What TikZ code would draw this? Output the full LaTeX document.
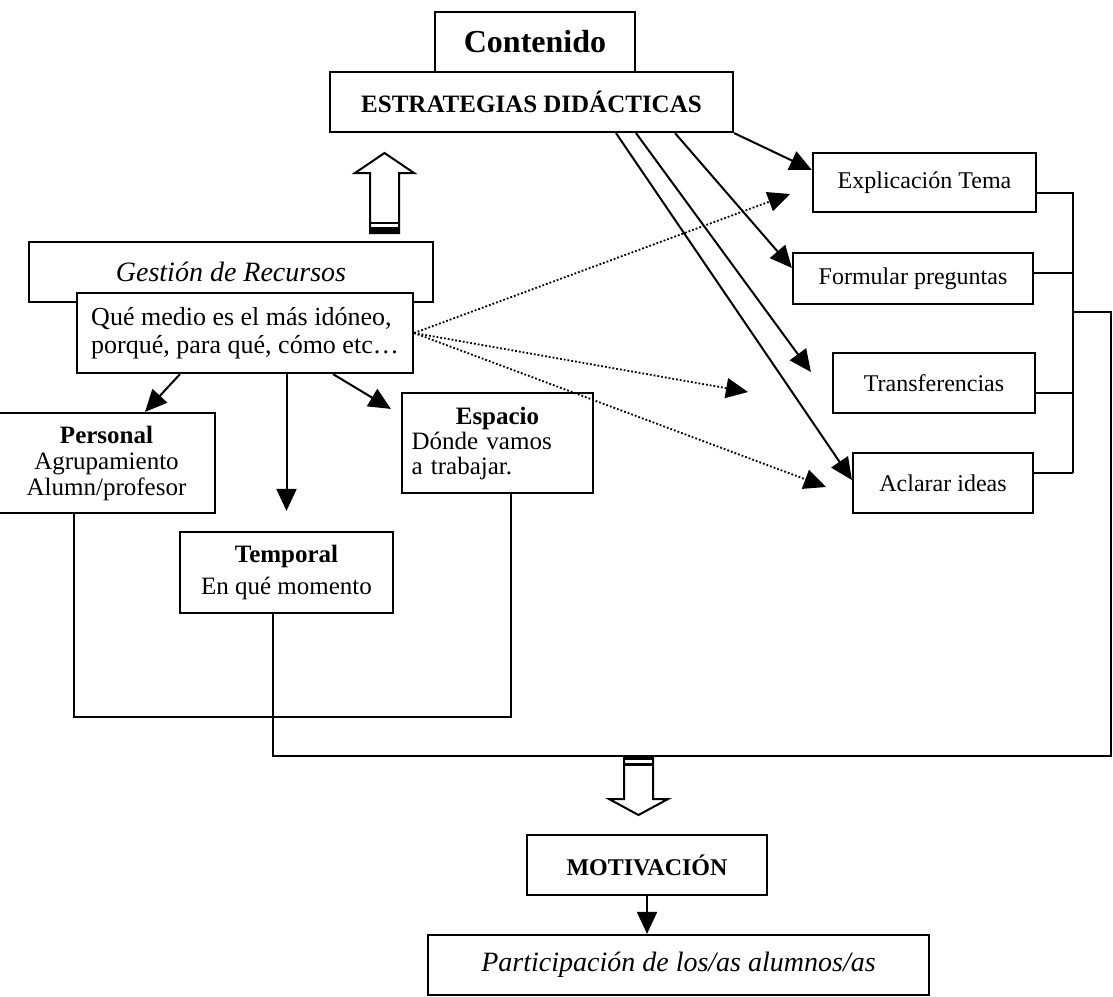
\documentclass[tikz,border=0pt]{standalone}
\usepackage{fontspec}
\setmainfont{Liberation Serif}
\usetikzlibrary{arrows.meta}
\tikzset{
	caja/.style={draw, line width=1.1pt, fill=white, inner sep=2pt, align=center, font=\fontsize{12}{12.5}\selectfont},
	flecha/.style={line width=1pt, -{Triangle[length=11pt,width=10pt]}},
	punteada/.style={densely dotted, line width=0.9pt, -{Triangle[length=11pt,width=10pt]}},
	hueca/.style={draw, line width=1pt, fill=white},
	linea/.style={line width=1pt}
}

\begin{document}
\begin{tikzpicture}[x=0.5pt,y=-0.5pt]
			\useasboundingbox (0,0) rectangle (1113,996);

			\node[caja, minimum width=100pt, minimum height=30pt, font=\fontsize{16}{18}\selectfont\bfseries] (cont) at (535,42) {Contenido};
			\node[caja, minimum width=201.5pt, minimum height=30pt, font=\fontsize{12.5}{14}\selectfont\bfseries] (estr) at (531.5,102) {ESTRATEGIAS DIDÁCTICAS};
			\node[caja, minimum width=202pt, minimum height=30pt, font=\fontsize{14}{16}\selectfont\itshape] (gest) at (231,272) {Gestión de Recursos};
			\node[caja, minimum width=168pt, minimum height=40pt, align=left, font=\fontsize{13}{14}\selectfont] (qm) at (245,333) {Qué medio es el más idóneo,\\ porqué, para qué, cómo etc…};
			\node[caja, minimum width=108.5pt, minimum height=50pt, font=\fontsize{12.5}{13}\selectfont] (pers) at (106.5,463) {\textbf{Personal}\\ Agrupamiento\\ Alumn/profesor};
			\node[caja, minimum width=106.5pt, minimum height=40.5pt, font=\fontsize{12.5}{16}\selectfont] (temp) at (286.5,572.5) {\textbf{Temporal}\\ En qué momento};
			\node[caja, align=left, text width=86pt, inner xsep=4.75pt, minimum height=50pt, font=\fontsize{12.5}{12.5}\selectfont] (esp) at (497.5,443) {\makebox[86pt]{\textbf{Espacio}}\\ Dónde vamos\\ a trabajar.};

			\node[caja, minimum width=111.5pt, minimum height=29.5pt] (expl) at (924.5,182.5) {Explicación Tema};
			\node[caja, minimum width=120pt, minimum height=25.5pt] (form) at (913,278.5) {Formular preguntas};
			\node[caja, minimum width=101pt, minimum height=30pt] (trans) at (934,383) {Transferencias};
			\node[caja, minimum width=90pt, minimum height=30pt] (acl) at (943,483) {Aclarar ideas};

			\node[caja, minimum width=120pt, minimum height=30pt, font=\fontsize{12}{14}\selectfont\bfseries] (mot) at (647,865) {MOTIVACIÓN};
			\node[caja, minimum width=250.5pt, minimum height=30pt, font=\fontsize{14}{16}\selectfont\itshape] (part) at (678.5,965) {Participación de los/as alumnos/as};

			\draw[flecha] (estr.south east) -- ([yshift=6.25pt]expl.west);
			\draw[flecha] ([xshift=71.75pt]estr.south) -- ([yshift=5.25pt]form.west);
			\draw[flecha] ([xshift=52.25pt]estr.south) -- ([xshift=-10.5pt,yshift=5.5pt]trans.west);
			\draw[flecha] ([xshift=42.25pt]estr.south) -- ([yshift=1.5pt]acl.west);

			\coordinate (p1) at (790,194);
			\coordinate (p2) at (748,392);
			\coordinate (p3) at (826,487);
			\draw[punteada] (qm.east) -- (p1);
			\draw[punteada] (qm.east) -- (p2);
			\draw[punteada] (qm.east) -- (p3);

			\draw[flecha] ([xshift=-32.5pt]qm.south) -- ([xshift=19.25pt]pers.north);
			\draw[flecha] (temp.north |- qm.south) -- ([yshift=10pt]temp.north);
			\draw[flecha] ([xshift=44pt]qm.south) -- ([xshift=-5pt,yshift=-8.5pt]esp.north west);

			\draw[hueca] (370,233) -- (370,173) -- (355,173) -- (384.5,153) -- (414,173) -- (399,173) -- (399,233) -- cycle;
			\fill (370,221.5) rectangle (399,223.5);
			\fill (370,227) rectangle (399,233);

			\coordinate (pi) at (74,717);
			\coordinate (pd) at (511,717);
			\draw[linea] (pers.south -| pi) -- (pi) -- (pd) -- (esp.south -| pd);

			\coordinate (ti) at (273,756);
			\coordinate (td) at (1111,756);
			\coordinate (ts) at (1111,312);
			\coordinate (ba) at (1073,473);
			\draw[linea] (temp.south -| ti) -- (ti) -- (td) -- (ts) -- (ts -| ba);
			\draw[linea] ([yshift=-5pt]expl.east) -| (ba);
			\draw[linea] ([yshift=2.75pt]form.east) -- +(40,0);
			\draw[linea] ([yshift=-5pt]trans.east) -- +(38,0);
			\draw[linea] ([yshift=5pt]acl.east) -- (ba);

			\draw[hueca] (624,757) -- (624,799) -- (609,799) -- (638.5,815) -- (668,799) -- (653,799) -- (653,757);
			\fill (624,756) rectangle (653,759.5);
			\fill (624,762.5) rectangle (653,765.5);

			\draw[flecha] (mot.south) -- (mot.south |- part.north);
		\end{tikzpicture}
\end{document}
